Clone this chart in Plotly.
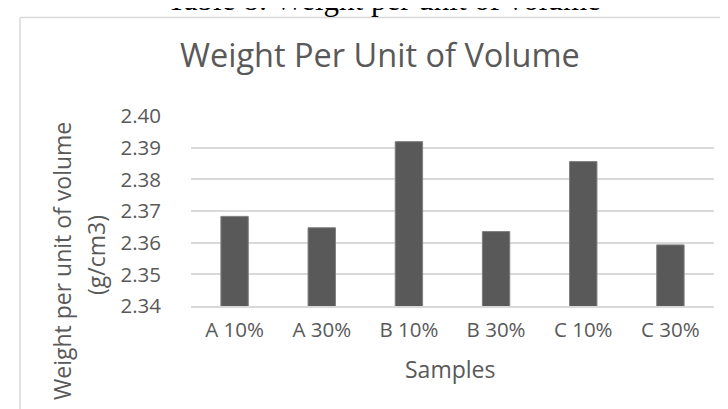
import plotly.graph_objects as go

# data
samples = ["A 10%", "A 30%", "B 10%", "B 30%", "C 10%", "C 30%"]
weight = [2.3683, 2.3647, 2.3919, 2.3635, 2.3856, 2.3593]
y_ticks = [2.34, 2.35, 2.36, 2.37, 2.38, 2.39, 2.40]

W, H = 728, 409
L, R, T, B = 183, 22, 108, 111
grey = "#595959"
font = "Open Sans"


# pixel position -> paper coordinates
def px(x):
    return (x - L) / (W - L - R)


def py(y):
    return (H - B - y) / (H - T - B)


fig = go.Figure()
fig.add_trace(go.Bar(x=samples, y=weight,
                     marker=dict(color=grey, line=dict(color="#7f7f7f", width=1)),
                     hoverinfo="x+y"))

fig.update_layout(
    width=W, height=H,
    margin=dict(l=L, r=R, t=T, b=B),
    paper_bgcolor="white", plot_bgcolor="white",
    bargap=0.686,
    showlegend=False,
    font=dict(family=font, size=20.5, color=grey),
)
fig.update_yaxes(range=[2.34, 2.40], tickvals=y_ticks,
                 ticktext=["%.2f" % v for v in y_ticks],
                 showgrid=True, gridcolor="#d9d9d9", gridwidth=1.5,
                 zeroline=False, showline=False, ticklabelstandoff=29,
                 automargin=False)
fig.update_xaxes(showgrid=False, showline=True, linecolor="#d9d9d9",
                 linewidth=1.5, ticklabelstandoff=5, automargin=False)

# frame of the chart (cut off on the right and bottom)
fig.add_shape(type="line", xref="paper", yref="paper",
              x0=px(12), x1=px(740), y0=py(9.5), y1=py(9.5),
              line=dict(color="#d9d9d9", width=1.5))
fig.add_shape(type="line", xref="paper", yref="paper",
              x0=px(12), x1=px(12), y0=py(9.5), y1=py(420),
              line=dict(color="#d9d9d9", width=1.5))

# clipped caption above the chart
fig.add_annotation(text="Table 8: Weight per unit of volume",
                   xref="paper", yref="paper", x=px(375.5), y=py(10.5),
                   xanchor="center", yanchor="bottom", showarrow=False,
                   font=dict(family="Liberation Serif", size=31, color="black"))

fig.add_annotation(text="Weight Per Unit of Volume",
                   xref="paper", yref="paper", x=px(372), y=py(47),
                   xanchor="center", yanchor="middle", showarrow=False,
                   font=dict(family=font, size=32.5, color=grey))

fig.add_annotation(text="Samples", xref="paper", yref="paper",
                   x=px(442), y=py(361), xanchor="center", yanchor="middle",
                   showarrow=False, font=dict(family=font, size=23, color=grey))

fig.add_annotation(text="Weight per unit of volume", xref="paper", yref="paper",
                   x=px(54), y=py(253), xanchor="center", yanchor="middle",
                   textangle=-90, showarrow=False,
                   font=dict(family=font, size=23, color=grey))
fig.add_annotation(text="(g/cm3)", xref="paper", yref="paper",
                   x=px(88), y=py(247), xanchor="center", yanchor="middle",
                   textangle=-90, showarrow=False,
                   font=dict(family=font, size=23, color=grey))

fig.write_html("out.html")
